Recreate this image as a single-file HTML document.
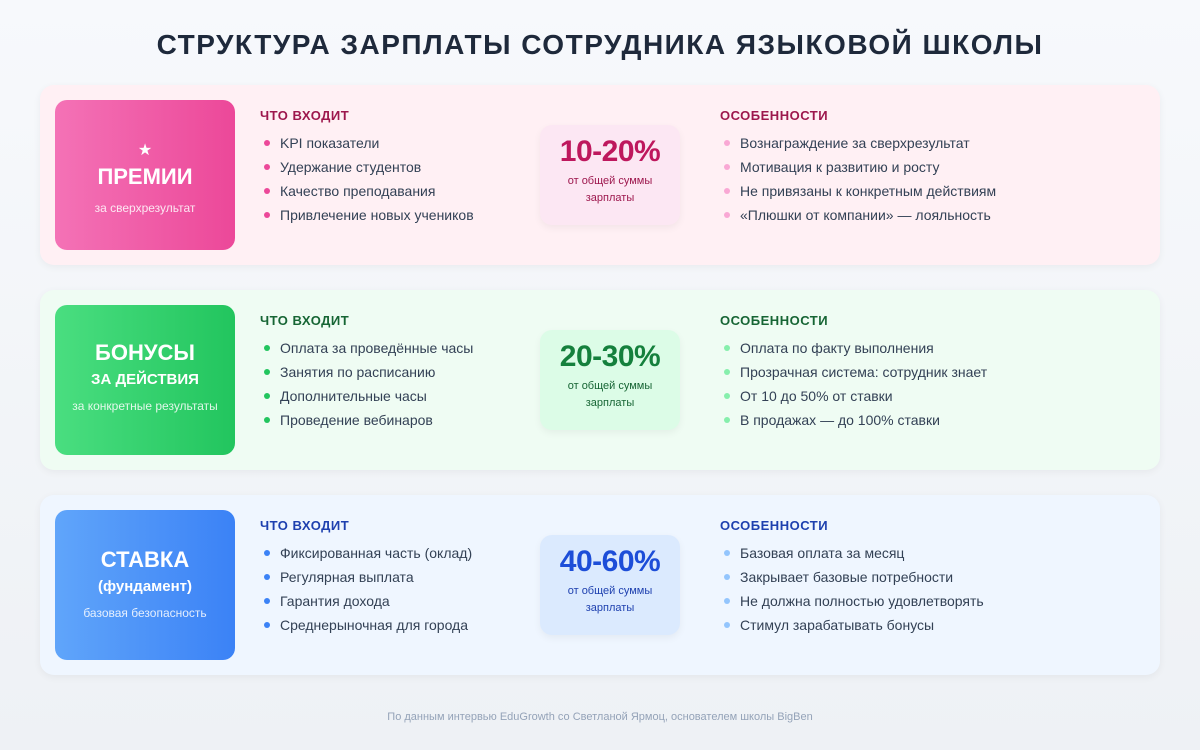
<!DOCTYPE html><html><head><meta charset="utf-8"><style>
*{margin:0;padding:0;box-sizing:border-box}
body{width:1200px;height:750px;background:linear-gradient(180deg,#f7f9fc,#eef1f5);font-family:"Liberation Sans","DejaVu Sans",sans-serif;position:relative;overflow:hidden}
h1{position:absolute;top:29px;left:0;width:1200px;text-align:center;font-size:28px;font-weight:700;color:#1e293b;letter-spacing:1.5px}
.card{position:absolute;left:40px;width:1120px;height:180px;border-radius:14px;box-shadow:0 2px 8px rgba(0,0,0,.05)}
.lab{position:absolute;left:15px;top:15px;width:180px;height:150px;border-radius:12px;color:#fff;text-align:center;display:flex;flex-direction:column;justify-content:center;align-items:center}
.lab .t{font-size:22px;font-weight:700;line-height:28px}
.lab .t2{font-size:15px;font-weight:700;line-height:26px}
.lab .s{font-size:12px;opacity:.85;margin-top:6px}
.col{position:absolute;top:23px}
.col h3{font-size:13px;font-weight:700;letter-spacing:.5px;margin-bottom:8px}
.col li{list-style:none;font-size:14px;color:#334155;line-height:24px;padding-left:20px;position:relative}
.col li:before{content:"";position:absolute;left:4px;top:9px;width:6px;height:6px;border-radius:50%;background:var(--d)}
.pct{position:absolute;left:500px;top:40px;width:140px;height:100px;border-radius:12px;text-align:center;box-shadow:0 3px 8px rgba(0,0,0,.05)}
.pct b{display:block;font-size:30px;margin-top:10px;letter-spacing:-.5px}
.pct span{display:block;font-size:11px;line-height:17px;margin-top:4px}
.foot{position:absolute;top:711px;width:1200px;text-align:center;font-size:11px;color:#94a3b8}
</style></head><body>
<h1>СТРУКТУРА ЗАРПЛАТЫ СОТРУДНИКА ЯЗЫКОВОЙ ШКОЛЫ</h1>

<div class="card" style="top:85px;background:#fff0f4">
<div class="lab" style="background:linear-gradient(90deg,#f472b6,#ec4899)"><div style="font-size:16px;line-height:20px;margin-top:6px">★</div><div class="t" style="line-height:32px">ПРЕМИИ</div><div class="s" style="margin-top:8px">за сверхрезультат</div></div>
<div class="col" style="left:220px;--d:#ec4899"><h3 style="color:#9d174d">ЧТО ВХОДИТ</h3><ul><li>KPI показатели</li><li>Удержание студентов</li><li>Качество преподавания</li><li>Привлечение новых учеников</li></ul></div>
<div class="pct" style="background:#fce7f3"><b style="color:#be185d">10-20%</b><span style="color:#9d174d">от общей суммы<br>зарплаты</span></div>
<div class="col" style="left:680px;--d:#f9a8d4"><h3 style="color:#9d174d">ОСОБЕННОСТИ</h3><ul><li>Вознаграждение за сверхрезультат</li><li>Мотивация к развитию и росту</li><li>Не привязаны к конкретным действиям</li><li>«Плюшки от компании» — лояльность</li></ul></div>
</div>

<div class="card" style="top:290px;background:#effcf3">
<div class="lab" style="background:linear-gradient(90deg,#4ade80,#22c55e)"><div style="margin-top:-8px"><div class="t">БОНУСЫ</div><div class="t2">ЗА ДЕЙСТВИЯ</div><div class="s">за конкретные результаты</div></div></div>
<div class="col" style="left:220px;--d:#22c55e"><h3 style="color:#166534">ЧТО ВХОДИТ</h3><ul><li>Оплата за проведённые часы</li><li>Занятия по расписанию</li><li>Дополнительные часы</li><li>Проведение вебинаров</li></ul></div>
<div class="pct" style="background:#dcfce7"><b style="color:#15803d">20-30%</b><span style="color:#166534">от общей суммы<br>зарплаты</span></div>
<div class="col" style="left:680px;--d:#86efac"><h3 style="color:#166534">ОСОБЕННОСТИ</h3><ul><li>Оплата по факту выполнения</li><li>Прозрачная система: сотрудник знает</li><li>От 10 до 50% от ставки</li><li>В продажах — до 100% ставки</li></ul></div>
</div>

<div class="card" style="top:495px;background:#eff6ff">
<div class="lab" style="background:linear-gradient(90deg,#60a5fa,#3b82f6)"><div style="margin-top:-4px"><div class="t">СТАВКА</div><div class="t2">(фундамент)</div><div class="s">базовая безопасность</div></div></div>
<div class="col" style="left:220px;--d:#3b82f6"><h3 style="color:#1e40af">ЧТО ВХОДИТ</h3><ul><li>Фиксированная часть (оклад)</li><li>Регулярная выплата</li><li>Гарантия дохода</li><li>Среднерыночная для города</li></ul></div>
<div class="pct" style="background:#dbeafe"><b style="color:#1d4ed8">40-60%</b><span style="color:#1e40af">от общей суммы<br>зарплаты</span></div>
<div class="col" style="left:680px;--d:#93c5fd"><h3 style="color:#1e40af">ОСОБЕННОСТИ</h3><ul><li>Базовая оплата за месяц</li><li>Закрывает базовые потребности</li><li>Не должна полностью удовлетворять</li><li>Стимул зарабатывать бонусы</li></ul></div>
</div>

<div class="foot">По данным интервью EduGrowth со Светланой Ярмоц, основателем школы BigBen</div>
</body></html>
